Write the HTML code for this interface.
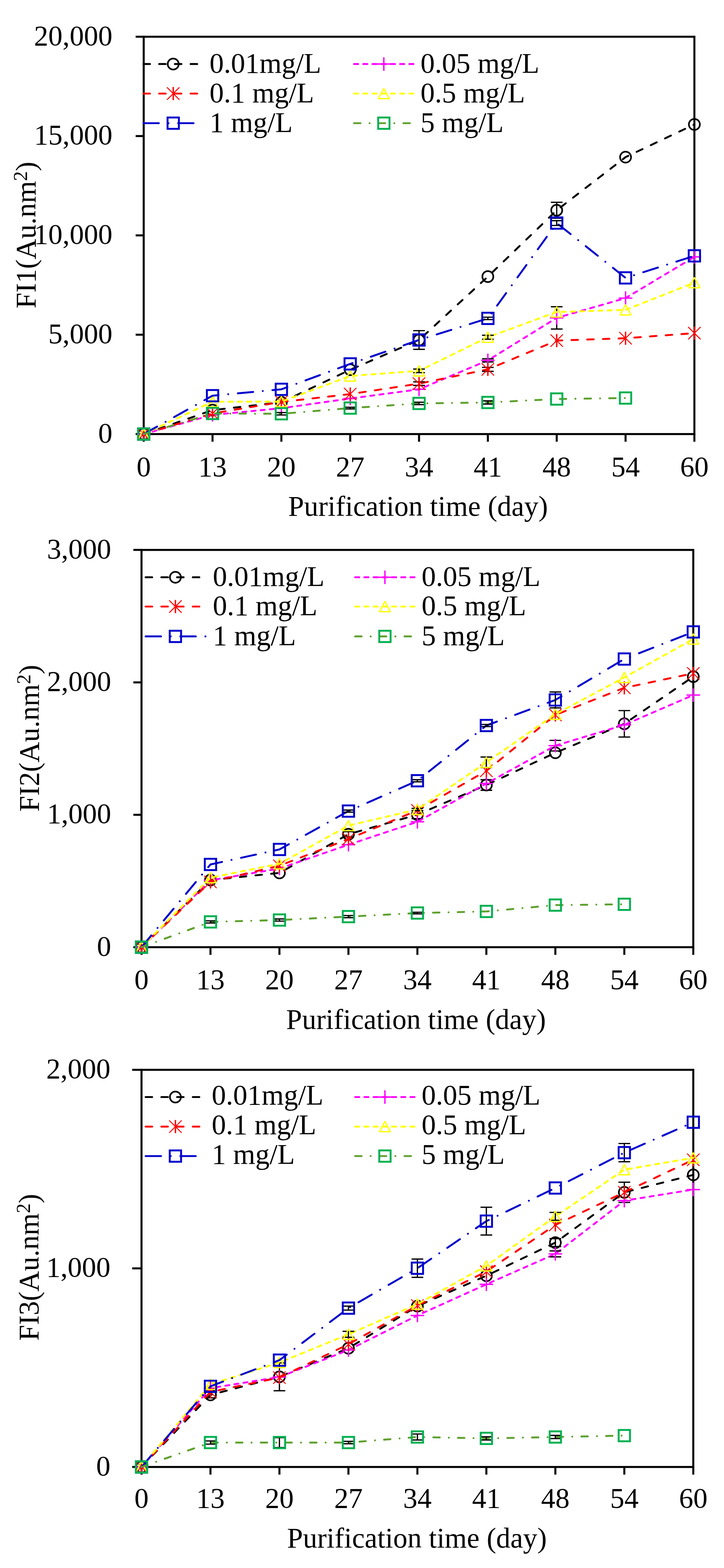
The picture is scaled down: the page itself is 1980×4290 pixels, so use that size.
<!DOCTYPE html><html><head><meta charset="utf-8"><style>html,body{margin:0;padding:0;background:#fff;}svg{display:block}</style></head><body>
<svg width="1980" height="4290" viewBox="0 0 1980 4290" font-family='"Liberation Serif", "Times New Roman", serif' font-size="78">
<rect width="1980" height="4290" fill="#fff"/><g>
<g><rect x="393" y="100.5" width="1506" height="1087.1" fill="none" stroke="#000" stroke-width="5.5"/><path d="M371 1187.6H393M371 915.8H393M371 644.0H393M371 372.3H393M371 100.5H393M393.0 1187.6V1208.6M581.2 1187.6V1208.6M769.5 1187.6V1208.6M957.8 1187.6V1208.6M1146.0 1187.6V1208.6M1334.2 1187.6V1208.6M1522.5 1187.6V1208.6M1710.8 1187.6V1208.6M1899.0 1187.6V1208.6" stroke="#000" stroke-width="5.5" fill="none"/><path d="M393.0 1187.6 L581.2 1122.1 L769.5 1100.6 L957.8 1011.6 L1146.0 930.2 L1334.2 756.8 L1522.5 575.3 L1710.8 429.9 L1899.0 340.5" fill="none" stroke="#000000" stroke-width="5.2" stroke-dasharray="17.8 25.2" stroke-linecap="round" stroke-linejoin="round"/><path d="M1146.0 904.6V955.7M1130.0 904.6H1162.0M1130.0 955.7H1162.0" stroke="#000" stroke-width="3.4" fill="none"/><path d="M1522.5 553.5V597.0M1506.5 553.5H1538.5M1506.5 597.0H1538.5" stroke="#000" stroke-width="3.4" fill="none"/><circle cx="393.0" cy="1187.6" r="15" fill="none" stroke="#000000" stroke-width="4.5"/><circle cx="581.2" cy="1122.1" r="15" fill="none" stroke="#000000" stroke-width="4.5"/><circle cx="769.5" cy="1100.6" r="15" fill="none" stroke="#000000" stroke-width="4.5"/><circle cx="957.8" cy="1011.6" r="15" fill="none" stroke="#000000" stroke-width="4.5"/><circle cx="1146.0" cy="930.2" r="15" fill="none" stroke="#000000" stroke-width="4.5"/><circle cx="1334.2" cy="756.8" r="15" fill="none" stroke="#000000" stroke-width="4.5"/><circle cx="1522.5" cy="575.3" r="15" fill="none" stroke="#000000" stroke-width="4.5"/><circle cx="1710.8" cy="429.9" r="15" fill="none" stroke="#000000" stroke-width="4.5"/><circle cx="1899.0" cy="340.5" r="15" fill="none" stroke="#000000" stroke-width="4.5"/><path d="M393.0 1187.6 L581.2 1135.1 L769.5 1116.9 L957.8 1090.3 L1146.0 1065.2 L1334.2 985.9 L1522.5 869.7 L1710.8 815.6 L1899.0 702.9" fill="none" stroke="#FF00FF" stroke-width="5.2" stroke-dasharray="11.2 14" stroke-linecap="round" stroke-linejoin="round"/><path d="M1522.5 839.3V900.2M1506.5 839.3H1538.5M1506.5 900.2H1538.5" stroke="#000" stroke-width="3.4" fill="none"/><path d="M1334.2 981.6V990.3M1318.2 981.6H1350.2M1318.2 990.3H1350.2" stroke="#000" stroke-width="3.4" fill="none"/><path d="M393.0 1169.1V1206.1M374.5 1187.6H411.5" stroke="#FF00FF" stroke-width="3.8" fill="none"/><path d="M581.2 1116.6V1153.6M562.8 1135.1H599.8" stroke="#FF00FF" stroke-width="3.8" fill="none"/><path d="M769.5 1098.4V1135.4M751.0 1116.9H788.0" stroke="#FF00FF" stroke-width="3.8" fill="none"/><path d="M957.8 1071.8V1108.8M939.2 1090.3H976.2" stroke="#FF00FF" stroke-width="3.8" fill="none"/><path d="M1146.0 1046.7V1083.7M1127.5 1065.2H1164.5" stroke="#FF00FF" stroke-width="3.8" fill="none"/><path d="M1334.2 967.4V1004.4M1315.8 985.9H1352.8" stroke="#FF00FF" stroke-width="3.8" fill="none"/><path d="M1522.5 851.2V888.2M1504.0 869.7H1541.0" stroke="#FF00FF" stroke-width="3.8" fill="none"/><path d="M1710.8 797.1V834.1M1692.2 815.6H1729.2" stroke="#FF00FF" stroke-width="3.8" fill="none"/><path d="M1899.0 684.4V721.4M1880.5 702.9H1917.5" stroke="#FF00FF" stroke-width="3.8" fill="none"/><path d="M393.0 1187.6 L581.2 1131.3 L769.5 1099.7 L957.8 1078.2 L1146.0 1049.6 L1334.2 1010.6 L1522.5 931.8 L1710.8 925.4 L1899.0 911.5" fill="none" stroke="#FF0000" stroke-width="5.2" stroke-dasharray="17.8 25.2" stroke-linecap="round" stroke-linejoin="round"/><path d="M1334.2 1005.1V1016.0M1318.2 1005.1H1350.2M1318.2 1016.0H1350.2" stroke="#000" stroke-width="3.4" fill="none"/><path d="M1146.0 1044.7V1054.5M1130.0 1044.7H1162.0M1130.0 1054.5H1162.0" stroke="#000" stroke-width="3.4" fill="none"/><path d="M393.0 1169.6V1205.6" stroke="#FF0000" stroke-width="3.8" fill="none"/><path d="M376.0 1170.6L410.0 1204.6M376.0 1204.6L410.0 1170.6" stroke="#FF0000" stroke-width="2.6" fill="none"/><path d="M581.2 1113.3V1149.3" stroke="#FF0000" stroke-width="3.8" fill="none"/><path d="M564.2 1114.3L598.2 1148.3M564.2 1148.3L598.2 1114.3" stroke="#FF0000" stroke-width="2.6" fill="none"/><path d="M769.5 1081.7V1117.7" stroke="#FF0000" stroke-width="3.8" fill="none"/><path d="M752.5 1082.7L786.5 1116.7M752.5 1116.7L786.5 1082.7" stroke="#FF0000" stroke-width="2.6" fill="none"/><path d="M957.8 1060.2V1096.2" stroke="#FF0000" stroke-width="3.8" fill="none"/><path d="M940.8 1061.2L974.8 1095.2M940.8 1095.2L974.8 1061.2" stroke="#FF0000" stroke-width="2.6" fill="none"/><path d="M1146.0 1031.6V1067.6" stroke="#FF0000" stroke-width="3.8" fill="none"/><path d="M1129.0 1032.6L1163.0 1066.6M1129.0 1066.6L1163.0 1032.6" stroke="#FF0000" stroke-width="2.6" fill="none"/><path d="M1334.2 992.6V1028.6" stroke="#FF0000" stroke-width="3.8" fill="none"/><path d="M1317.2 993.6L1351.2 1027.6M1317.2 1027.6L1351.2 993.6" stroke="#FF0000" stroke-width="2.6" fill="none"/><path d="M1522.5 913.8V949.8" stroke="#FF0000" stroke-width="3.8" fill="none"/><path d="M1505.5 914.8L1539.5 948.8M1505.5 948.8L1539.5 914.8" stroke="#FF0000" stroke-width="2.6" fill="none"/><path d="M1710.8 907.4V943.4" stroke="#FF0000" stroke-width="3.8" fill="none"/><path d="M1693.8 908.4L1727.8 942.4M1693.8 942.4L1727.8 908.4" stroke="#FF0000" stroke-width="2.6" fill="none"/><path d="M1899.0 893.5V929.5" stroke="#FF0000" stroke-width="3.8" fill="none"/><path d="M1882.0 894.5L1916.0 928.5M1882.0 928.5L1916.0 894.5" stroke="#FF0000" stroke-width="2.6" fill="none"/><path d="M393.0 1187.6 L581.2 1099.0 L769.5 1098.9 L957.8 1028.7 L1146.0 1014.7 L1334.2 922.6 L1522.5 853.6 L1710.8 847.8 L1899.0 773.4" fill="none" stroke="#FFFF00" stroke-width="5.2" stroke-dasharray="11.2 14" stroke-linecap="round" stroke-linejoin="round"/><path d="M1334.2 917.2V928.1M1318.2 917.2H1350.2M1318.2 928.1H1350.2" stroke="#000" stroke-width="3.4" fill="none"/><path d="M1146.0 1009.8V1019.6M1130.0 1009.8H1162.0M1130.0 1019.6H1162.0" stroke="#000" stroke-width="3.4" fill="none"/><path d="M393.0 1173.6L408.0 1201.6H378.0Z" stroke="#FFFF00" stroke-width="3.4" fill="none" stroke-linejoin="round"/><path d="M581.2 1085.0L596.2 1113.0H566.2Z" stroke="#FFFF00" stroke-width="3.4" fill="none" stroke-linejoin="round"/><path d="M769.5 1084.9L784.5 1112.9H754.5Z" stroke="#FFFF00" stroke-width="3.4" fill="none" stroke-linejoin="round"/><path d="M957.8 1014.7L972.8 1042.7H942.8Z" stroke="#FFFF00" stroke-width="3.4" fill="none" stroke-linejoin="round"/><path d="M1146.0 1000.7L1161.0 1028.7H1131.0Z" stroke="#FFFF00" stroke-width="3.4" fill="none" stroke-linejoin="round"/><path d="M1334.2 908.6L1349.2 936.6H1319.2Z" stroke="#FFFF00" stroke-width="3.4" fill="none" stroke-linejoin="round"/><path d="M1522.5 839.6L1537.5 867.6H1507.5Z" stroke="#FFFF00" stroke-width="3.4" fill="none" stroke-linejoin="round"/><path d="M1710.8 833.8L1725.8 861.8H1695.8Z" stroke="#FFFF00" stroke-width="3.4" fill="none" stroke-linejoin="round"/><path d="M1899.0 759.4L1914.0 787.4H1884.0Z" stroke="#FFFF00" stroke-width="3.4" fill="none" stroke-linejoin="round"/><path d="M393.0 1187.6 L581.2 1082.6 L769.5 1065.2 L957.8 995.6 L1146.0 930.2 L1334.2 871.1 L1522.5 610.3 L1710.8 760.3 L1899.0 700.0" fill="none" stroke="#0000CC" stroke-width="5.2" stroke-dasharray="42 26.5 0.01 26.5" stroke-linecap="round" stroke-linejoin="round"/><path d="M1334.2 867.9V874.4M1318.2 867.9H1350.2M1318.2 874.4H1350.2" stroke="#000" stroke-width="3.4" fill="none"/><path d="M1522.5 603.8V616.9M1506.5 603.8H1538.5M1506.5 616.9H1538.5" stroke="#000" stroke-width="3.4" fill="none"/><rect x="377.5" y="1172.1" width="31.0" height="31.0" fill="none" stroke="#0000CC" stroke-width="5.2"/><rect x="565.8" y="1067.1" width="31.0" height="31.0" fill="none" stroke="#0000CC" stroke-width="5.2"/><rect x="754.0" y="1049.7" width="31.0" height="31.0" fill="none" stroke="#0000CC" stroke-width="5.2"/><rect x="942.2" y="980.1" width="31.0" height="31.0" fill="none" stroke="#0000CC" stroke-width="5.2"/><rect x="1130.5" y="914.7" width="31.0" height="31.0" fill="none" stroke="#0000CC" stroke-width="5.2"/><rect x="1318.8" y="855.6" width="31.0" height="31.0" fill="none" stroke="#0000CC" stroke-width="5.2"/><rect x="1507.0" y="594.8" width="31.0" height="31.0" fill="none" stroke="#0000CC" stroke-width="5.2"/><rect x="1695.2" y="744.8" width="31.0" height="31.0" fill="none" stroke="#0000CC" stroke-width="5.2"/><rect x="1883.5" y="684.5" width="31.0" height="31.0" fill="none" stroke="#0000CC" stroke-width="5.2"/><path d="M393.0 1187.6 L581.2 1131.3 L769.5 1132.1 L957.8 1116.5 L1146.0 1103.8 L1334.2 1101.2 L1522.5 1091.7 L1710.8 1089.0" fill="none" stroke="#5FA02E" stroke-width="5.2" stroke-dasharray="17.5 25 0.01 25" stroke-linecap="round" stroke-linejoin="round"/><path d="M1334.2 1096.8V1105.5M1318.2 1096.8H1350.2M1318.2 1105.5H1350.2" stroke="#000" stroke-width="3.4" fill="none"/><path d="M1146.0 1100.5V1107.0M1130.0 1100.5H1162.0M1130.0 1107.0H1162.0" stroke="#000" stroke-width="3.4" fill="none"/><path d="M769.5 1128.8V1135.4M753.5 1128.8H785.5M753.5 1135.4H785.5" stroke="#000" stroke-width="3.4" fill="none"/><path d="M957.8 1114.3V1118.7M941.8 1114.3H973.8M941.8 1118.7H973.8" stroke="#000" stroke-width="3.4" fill="none"/><rect x="377.5" y="1172.1" width="31.0" height="31.0" fill="none" stroke="#00B050" stroke-width="5.2"/><rect x="565.8" y="1115.8" width="31.0" height="31.0" fill="none" stroke="#00B050" stroke-width="5.2"/><rect x="754.0" y="1116.6" width="31.0" height="31.0" fill="none" stroke="#00B050" stroke-width="5.2"/><rect x="942.2" y="1101.0" width="31.0" height="31.0" fill="none" stroke="#00B050" stroke-width="5.2"/><rect x="1130.5" y="1088.3" width="31.0" height="31.0" fill="none" stroke="#00B050" stroke-width="5.2"/><rect x="1318.8" y="1085.7" width="31.0" height="31.0" fill="none" stroke="#00B050" stroke-width="5.2"/><rect x="1507.0" y="1076.2" width="31.0" height="31.0" fill="none" stroke="#00B050" stroke-width="5.2"/><rect x="1695.2" y="1073.5" width="31.0" height="31.0" fill="none" stroke="#00B050" stroke-width="5.2"/><text x="307.5" y="1210.6" text-anchor="end">0</text><text x="307.5" y="938.8" text-anchor="end">5,000</text><text x="307.5" y="667.0" text-anchor="end">10,000</text><text x="307.5" y="395.3" text-anchor="end">15,000</text><text x="307.5" y="123.5" text-anchor="end">20,000</text><text x="393.0" y="1302.5" text-anchor="middle">0</text><text x="581.2" y="1302.5" text-anchor="middle">13</text><text x="769.5" y="1302.5" text-anchor="middle">20</text><text x="957.8" y="1302.5" text-anchor="middle">27</text><text x="1146.0" y="1302.5" text-anchor="middle">34</text><text x="1334.2" y="1302.5" text-anchor="middle">41</text><text x="1522.5" y="1302.5" text-anchor="middle">48</text><text x="1710.8" y="1302.5" text-anchor="middle">54</text><text x="1899.0" y="1302.5" text-anchor="middle">60</text><text x="788" y="1411">Purification time (day)</text><text transform="translate(97.3,844) rotate(-90)">FI1(Au.nm<tspan font-size="54" dy="-23">2</tspan><tspan dy="23">)</tspan></text><path d="M392.3 175.2H557.7" stroke="#000000" stroke-width="5.2" stroke-dasharray="17.8 25.2" stroke-linecap="round" fill="none"/><circle cx="473.7" cy="175.2" r="15" fill="none" stroke="#000000" stroke-width="4.5"/><text x="573" y="199.2">0.01mg/L</text><path d="M968.3 175.2H1133.7" stroke="#FF00FF" stroke-width="5.2" stroke-dasharray="11.2 14" stroke-linecap="round" fill="none"/><path d="M1049.7 156.7V193.7M1031.2 175.2H1068.2" stroke="#FF00FF" stroke-width="3.8" fill="none"/><text x="1150" y="199.2">0.05 mg/L</text><path d="M392.3 256H557.7" stroke="#FF0000" stroke-width="5.2" stroke-dasharray="17.8 25.2" stroke-linecap="round" fill="none"/><path d="M473.7 238.0V274.0" stroke="#FF0000" stroke-width="3.8" fill="none"/><path d="M456.7 239.0L490.7 273.0M456.7 273.0L490.7 239.0" stroke="#FF0000" stroke-width="2.6" fill="none"/><text x="573" y="280.0">0.1 mg/L</text><path d="M968.3 256H1133.7" stroke="#FFFF00" stroke-width="5.2" stroke-dasharray="11.2 14" stroke-linecap="round" fill="none"/><path d="M1049.7 242.0L1064.7 270.0H1034.7Z" stroke="#FFFF00" stroke-width="3.4" fill="none" stroke-linejoin="round"/><text x="1150" y="280.0">0.5 mg/L</text><path d="M392.3 337H543.7" stroke="#0000CC" stroke-width="5.2" stroke-dasharray="42 26.5 0.01 26.5" stroke-linecap="round" fill="none"/><rect x="458.2" y="321.5" width="31.0" height="31.0" fill="none" stroke="#0000CC" stroke-width="5.2"/><text x="573" y="361.0">1 mg/L</text><path d="M968.3 337H1133.7" stroke="#5FA02E" stroke-width="5.2" stroke-dasharray="17.5 25 0.01 25" stroke-linecap="round" fill="none"/><rect x="1034.2" y="321.5" width="31.0" height="31.0" fill="none" stroke="#00B050" stroke-width="5.2"/><text x="1150" y="361.0">5 mg/L</text></g>
<g><rect x="387" y="1504.6" width="1509" height="1086.9" fill="none" stroke="#000" stroke-width="5.5"/><path d="M364.7 2591.5H387M364.7 2229.2H387M364.7 1866.9H387M364.7 1504.6H387M387.0 2591.5V2612.5M575.6 2591.5V2612.5M764.2 2591.5V2612.5M952.9 2591.5V2612.5M1141.5 2591.5V2612.5M1330.1 2591.5V2612.5M1518.8 2591.5V2612.5M1707.4 2591.5V2612.5M1896.0 2591.5V2612.5" stroke="#000" stroke-width="5.5" fill="none"/><path d="M387.0 2591.5 L575.6 2407.8 L764.2 2388.2 L952.9 2282.5 L1141.5 2228.8 L1330.1 2147.7 L1518.8 2059.6 L1707.4 1980.3 L1896.0 1851.3" fill="none" stroke="#000000" stroke-width="5.2" stroke-dasharray="17.8 25.2" stroke-linecap="round" stroke-linejoin="round"/><path d="M1707.4 1944.1V2016.5M1691.4 1944.1H1723.4M1691.4 2016.5H1723.4" stroke="#000" stroke-width="3.4" fill="none"/><path d="M1330.1 2133.2V2162.2M1314.1 2133.2H1346.1M1314.1 2162.2H1346.1" stroke="#000" stroke-width="3.4" fill="none"/><path d="M1141.5 2218.0V2239.7M1125.5 2218.0H1157.5M1125.5 2239.7H1157.5" stroke="#000" stroke-width="3.4" fill="none"/><path d="M952.9 2275.2V2289.7M936.9 2275.2H968.9M936.9 2289.7H968.9" stroke="#000" stroke-width="3.4" fill="none"/><circle cx="387.0" cy="2591.5" r="15" fill="none" stroke="#000000" stroke-width="4.5"/><circle cx="575.6" cy="2407.8" r="15" fill="none" stroke="#000000" stroke-width="4.5"/><circle cx="764.2" cy="2388.2" r="15" fill="none" stroke="#000000" stroke-width="4.5"/><circle cx="952.9" cy="2282.5" r="15" fill="none" stroke="#000000" stroke-width="4.5"/><circle cx="1141.5" cy="2228.8" r="15" fill="none" stroke="#000000" stroke-width="4.5"/><circle cx="1330.1" cy="2147.7" r="15" fill="none" stroke="#000000" stroke-width="4.5"/><circle cx="1518.8" cy="2059.6" r="15" fill="none" stroke="#000000" stroke-width="4.5"/><circle cx="1707.4" cy="1980.3" r="15" fill="none" stroke="#000000" stroke-width="4.5"/><circle cx="1896.0" cy="1851.3" r="15" fill="none" stroke="#000000" stroke-width="4.5"/><path d="M387.0 2591.5 L575.6 2408.5 L764.2 2376.3 L952.9 2311.1 L1141.5 2248.4 L1330.1 2143.7 L1518.8 2040.1 L1707.4 1983.2 L1896.0 1901.7" fill="none" stroke="#FF00FF" stroke-width="5.2" stroke-dasharray="11.2 14" stroke-linecap="round" stroke-linejoin="round"/><path d="M1518.8 2025.6V2054.6M1502.8 2025.6H1534.8M1502.8 2054.6H1534.8" stroke="#000" stroke-width="3.4" fill="none"/><path d="M387.0 2573.0V2610.0M368.5 2591.5H405.5" stroke="#FF00FF" stroke-width="3.8" fill="none"/><path d="M575.6 2390.0V2427.0M557.1 2408.5H594.1" stroke="#FF00FF" stroke-width="3.8" fill="none"/><path d="M764.2 2357.8V2394.8M745.8 2376.3H782.8" stroke="#FF00FF" stroke-width="3.8" fill="none"/><path d="M952.9 2292.6V2329.6M934.4 2311.1H971.4" stroke="#FF00FF" stroke-width="3.8" fill="none"/><path d="M1141.5 2229.9V2266.9M1123.0 2248.4H1160.0" stroke="#FF00FF" stroke-width="3.8" fill="none"/><path d="M1330.1 2125.2V2162.2M1311.6 2143.7H1348.6" stroke="#FF00FF" stroke-width="3.8" fill="none"/><path d="M1518.8 2021.6V2058.6M1500.2 2040.1H1537.2" stroke="#FF00FF" stroke-width="3.8" fill="none"/><path d="M1707.4 1964.7V2001.7M1688.9 1983.2H1725.9" stroke="#FF00FF" stroke-width="3.8" fill="none"/><path d="M1896.0 1883.2V1920.2M1877.5 1901.7H1914.5" stroke="#FF00FF" stroke-width="3.8" fill="none"/><path d="M387.0 2591.5 L575.6 2412.9 L764.2 2368.7 L952.9 2295.5 L1141.5 2217.2 L1330.1 2108.9 L1518.8 1956.0 L1707.4 1881.8 L1896.0 1842.3" fill="none" stroke="#FF0000" stroke-width="5.2" stroke-dasharray="17.8 25.2" stroke-linecap="round" stroke-linejoin="round"/><path d="M387.0 2573.5V2609.5" stroke="#FF0000" stroke-width="3.8" fill="none"/><path d="M370.0 2574.5L404.0 2608.5M370.0 2608.5L404.0 2574.5" stroke="#FF0000" stroke-width="2.6" fill="none"/><path d="M575.6 2394.9V2430.9" stroke="#FF0000" stroke-width="3.8" fill="none"/><path d="M558.6 2395.9L592.6 2429.9M558.6 2429.9L592.6 2395.9" stroke="#FF0000" stroke-width="2.6" fill="none"/><path d="M764.2 2350.7V2386.7" stroke="#FF0000" stroke-width="3.8" fill="none"/><path d="M747.2 2351.7L781.2 2385.7M747.2 2385.7L781.2 2351.7" stroke="#FF0000" stroke-width="2.6" fill="none"/><path d="M952.9 2277.5V2313.5" stroke="#FF0000" stroke-width="3.8" fill="none"/><path d="M935.9 2278.5L969.9 2312.5M935.9 2312.5L969.9 2278.5" stroke="#FF0000" stroke-width="2.6" fill="none"/><path d="M1141.5 2199.2V2235.2" stroke="#FF0000" stroke-width="3.8" fill="none"/><path d="M1124.5 2200.2L1158.5 2234.2M1124.5 2234.2L1158.5 2200.2" stroke="#FF0000" stroke-width="2.6" fill="none"/><path d="M1330.1 2090.9V2126.9" stroke="#FF0000" stroke-width="3.8" fill="none"/><path d="M1313.1 2091.9L1347.1 2125.9M1313.1 2125.9L1347.1 2091.9" stroke="#FF0000" stroke-width="2.6" fill="none"/><path d="M1518.8 1938.0V1974.0" stroke="#FF0000" stroke-width="3.8" fill="none"/><path d="M1501.8 1939.0L1535.8 1973.0M1501.8 1973.0L1535.8 1939.0" stroke="#FF0000" stroke-width="2.6" fill="none"/><path d="M1707.4 1863.8V1899.8" stroke="#FF0000" stroke-width="3.8" fill="none"/><path d="M1690.4 1864.8L1724.4 1898.8M1690.4 1898.8L1724.4 1864.8" stroke="#FF0000" stroke-width="2.6" fill="none"/><path d="M1896.0 1824.3V1860.3" stroke="#FF0000" stroke-width="3.8" fill="none"/><path d="M1879.0 1825.3L1913.0 1859.3M1879.0 1859.3L1913.0 1825.3" stroke="#FF0000" stroke-width="2.6" fill="none"/><path d="M387.0 2591.5 L575.6 2401.3 L764.2 2363.3 L952.9 2258.9 L1141.5 2214.7 L1330.1 2085.7 L1518.8 1954.2 L1707.4 1853.5 L1896.0 1748.4" fill="none" stroke="#FFFF00" stroke-width="5.2" stroke-dasharray="11.2 14" stroke-linecap="round" stroke-linejoin="round"/><path d="M1330.1 2071.2V2100.2M1314.1 2071.2H1346.1M1314.1 2100.2H1346.1" stroke="#000" stroke-width="3.4" fill="none"/><path d="M1141.5 2211.8V2217.6M1125.5 2211.8H1157.5M1125.5 2217.6H1157.5" stroke="#000" stroke-width="3.4" fill="none"/><path d="M387.0 2577.5L402.0 2605.5H372.0Z" stroke="#FFFF00" stroke-width="3.4" fill="none" stroke-linejoin="round"/><path d="M575.6 2387.3L590.6 2415.3H560.6Z" stroke="#FFFF00" stroke-width="3.4" fill="none" stroke-linejoin="round"/><path d="M764.2 2349.3L779.2 2377.3H749.2Z" stroke="#FFFF00" stroke-width="3.4" fill="none" stroke-linejoin="round"/><path d="M952.9 2244.9L967.9 2272.9H937.9Z" stroke="#FFFF00" stroke-width="3.4" fill="none" stroke-linejoin="round"/><path d="M1141.5 2200.7L1156.5 2228.7H1126.5Z" stroke="#FFFF00" stroke-width="3.4" fill="none" stroke-linejoin="round"/><path d="M1330.1 2071.7L1345.1 2099.7H1315.1Z" stroke="#FFFF00" stroke-width="3.4" fill="none" stroke-linejoin="round"/><path d="M1518.8 1940.2L1533.8 1968.2H1503.8Z" stroke="#FFFF00" stroke-width="3.4" fill="none" stroke-linejoin="round"/><path d="M1707.4 1839.5L1722.4 1867.5H1692.4Z" stroke="#FFFF00" stroke-width="3.4" fill="none" stroke-linejoin="round"/><path d="M1896.0 1734.4L1911.0 1762.4H1881.0Z" stroke="#FFFF00" stroke-width="3.4" fill="none" stroke-linejoin="round"/><path d="M387.0 2591.5 L575.6 2365.1 L764.2 2324.1 L952.9 2219.1 L1141.5 2136.1 L1330.1 1985.0 L1518.8 1915.1 L1707.4 1803.1 L1896.0 1728.9" fill="none" stroke="#0000CC" stroke-width="5.2" stroke-dasharray="42 26.5 0.01 26.5" stroke-linecap="round" stroke-linejoin="round"/><path d="M1518.8 1893.3V1936.8M1502.8 1893.3H1534.8M1502.8 1936.8H1534.8" stroke="#000" stroke-width="3.4" fill="none"/><path d="M952.9 2216.2V2222.0M936.9 2216.2H968.9M936.9 2222.0H968.9" stroke="#000" stroke-width="3.4" fill="none"/><path d="M1141.5 2133.2V2139.0M1125.5 2133.2H1157.5M1125.5 2139.0H1157.5" stroke="#000" stroke-width="3.4" fill="none"/><path d="M1330.1 1982.1V1987.9M1314.1 1982.1H1346.1M1314.1 1987.9H1346.1" stroke="#000" stroke-width="3.4" fill="none"/><rect x="371.5" y="2576.0" width="31.0" height="31.0" fill="none" stroke="#0000CC" stroke-width="5.2"/><rect x="560.1" y="2349.6" width="31.0" height="31.0" fill="none" stroke="#0000CC" stroke-width="5.2"/><rect x="748.8" y="2308.6" width="31.0" height="31.0" fill="none" stroke="#0000CC" stroke-width="5.2"/><rect x="937.4" y="2203.6" width="31.0" height="31.0" fill="none" stroke="#0000CC" stroke-width="5.2"/><rect x="1126.0" y="2120.6" width="31.0" height="31.0" fill="none" stroke="#0000CC" stroke-width="5.2"/><rect x="1314.6" y="1969.5" width="31.0" height="31.0" fill="none" stroke="#0000CC" stroke-width="5.2"/><rect x="1503.2" y="1899.6" width="31.0" height="31.0" fill="none" stroke="#0000CC" stroke-width="5.2"/><rect x="1691.9" y="1787.6" width="31.0" height="31.0" fill="none" stroke="#0000CC" stroke-width="5.2"/><rect x="1880.5" y="1713.4" width="31.0" height="31.0" fill="none" stroke="#0000CC" stroke-width="5.2"/><path d="M387.0 2591.5 L575.6 2522.3 L764.2 2517.2 L952.9 2507.8 L1141.5 2498.0 L1330.1 2493.7 L1518.8 2476.3 L1707.4 2474.1" fill="none" stroke="#5FA02E" stroke-width="5.2" stroke-dasharray="17.5 25 0.01 25" stroke-linecap="round" stroke-linejoin="round"/><path d="M575.6 2519.4V2525.2M559.6 2519.4H591.6M559.6 2525.2H591.6" stroke="#000" stroke-width="3.4" fill="none"/><path d="M764.2 2514.3V2520.1M748.2 2514.3H780.2M748.2 2520.1H780.2" stroke="#000" stroke-width="3.4" fill="none"/><path d="M952.9 2504.9V2510.7M936.9 2504.9H968.9M936.9 2510.7H968.9" stroke="#000" stroke-width="3.4" fill="none"/><path d="M1141.5 2495.9V2500.2M1125.5 2495.9H1157.5M1125.5 2500.2H1157.5" stroke="#000" stroke-width="3.4" fill="none"/><rect x="371.5" y="2576.0" width="31.0" height="31.0" fill="none" stroke="#00B050" stroke-width="5.2"/><rect x="560.1" y="2506.8" width="31.0" height="31.0" fill="none" stroke="#00B050" stroke-width="5.2"/><rect x="748.8" y="2501.7" width="31.0" height="31.0" fill="none" stroke="#00B050" stroke-width="5.2"/><rect x="937.4" y="2492.3" width="31.0" height="31.0" fill="none" stroke="#00B050" stroke-width="5.2"/><rect x="1126.0" y="2482.5" width="31.0" height="31.0" fill="none" stroke="#00B050" stroke-width="5.2"/><rect x="1314.6" y="2478.2" width="31.0" height="31.0" fill="none" stroke="#00B050" stroke-width="5.2"/><rect x="1503.2" y="2460.8" width="31.0" height="31.0" fill="none" stroke="#00B050" stroke-width="5.2"/><rect x="1691.9" y="2458.6" width="31.0" height="31.0" fill="none" stroke="#00B050" stroke-width="5.2"/><text x="304" y="2614.5" text-anchor="end">0</text><text x="304" y="2252.2" text-anchor="end">1,000</text><text x="304" y="1889.9" text-anchor="end">2,000</text><text x="304" y="1527.6" text-anchor="end">3,000</text><text x="387.0" y="2706" text-anchor="middle">0</text><text x="575.6" y="2706" text-anchor="middle">13</text><text x="764.2" y="2706" text-anchor="middle">20</text><text x="952.9" y="2706" text-anchor="middle">27</text><text x="1141.5" y="2706" text-anchor="middle">34</text><text x="1330.1" y="2706" text-anchor="middle">41</text><text x="1518.8" y="2706" text-anchor="middle">48</text><text x="1707.4" y="2706" text-anchor="middle">54</text><text x="1896.0" y="2706" text-anchor="middle">60</text><text x="782.5" y="2815">Purification time (day)</text><text transform="translate(106.4,2220.7) rotate(-90)">FI2(Au.nm<tspan font-size="54" dy="-23">2</tspan><tspan dy="23">)</tspan></text><path d="M398.3 1579.4H563.7" stroke="#000000" stroke-width="5.2" stroke-dasharray="17.8 25.2" stroke-linecap="round" fill="none"/><circle cx="479.7" cy="1579.4" r="15" fill="none" stroke="#000000" stroke-width="4.5"/><text x="582" y="1602.9">0.01mg/L</text><path d="M971.3 1579.4H1136.7" stroke="#FF00FF" stroke-width="5.2" stroke-dasharray="11.2 14" stroke-linecap="round" fill="none"/><path d="M1052.7 1560.9V1597.9M1034.2 1579.4H1071.2" stroke="#FF00FF" stroke-width="3.8" fill="none"/><text x="1153" y="1602.9">0.05 mg/L</text><path d="M398.3 1659.5H563.7" stroke="#FF0000" stroke-width="5.2" stroke-dasharray="17.8 25.2" stroke-linecap="round" fill="none"/><path d="M479.7 1641.5V1677.5" stroke="#FF0000" stroke-width="3.8" fill="none"/><path d="M462.7 1642.5L496.7 1676.5M462.7 1676.5L496.7 1642.5" stroke="#FF0000" stroke-width="2.6" fill="none"/><text x="582" y="1683.0">0.1 mg/L</text><path d="M971.3 1659.5H1136.7" stroke="#FFFF00" stroke-width="5.2" stroke-dasharray="11.2 14" stroke-linecap="round" fill="none"/><path d="M1052.7 1645.5L1067.7 1673.5H1037.7Z" stroke="#FFFF00" stroke-width="3.4" fill="none" stroke-linejoin="round"/><text x="1153" y="1683.0">0.5 mg/L</text><path d="M398.3 1741.2H563.7" stroke="#0000CC" stroke-width="5.2" stroke-dasharray="42 26.5 0.01 26.5" stroke-linecap="round" fill="none"/><rect x="464.2" y="1725.7" width="31.0" height="31.0" fill="none" stroke="#0000CC" stroke-width="5.2"/><text x="582" y="1764.7">1 mg/L</text><path d="M971.3 1741.2H1136.7" stroke="#5FA02E" stroke-width="5.2" stroke-dasharray="17.5 25 0.01 25" stroke-linecap="round" fill="none"/><rect x="1037.2" y="1725.7" width="31.0" height="31.0" fill="none" stroke="#00B050" stroke-width="5.2"/><text x="1153" y="1764.7">5 mg/L</text></g>
<g><rect x="387" y="2927" width="1509" height="1086.6" fill="none" stroke="#000" stroke-width="5.5"/><path d="M361.5 4013.6H387M361.5 3470.3H387M361.5 2927.0H387M387.0 4013.6V4034.6M575.6 4013.6V4034.6M764.2 4013.6V4034.6M952.9 4013.6V4034.6M1141.5 4013.6V4034.6M1330.1 4013.6V4034.6M1518.8 4013.6V4034.6M1707.4 4013.6V4034.6M1896.0 4013.6V4034.6" stroke="#000" stroke-width="5.5" fill="none"/><path d="M387.0 4013.6 L575.6 3816.4 L764.2 3766.9 L952.9 3688.7 L1141.5 3573.5 L1330.1 3490.4 L1518.8 3399.7 L1707.4 3262.2 L1896.0 3214.4" fill="none" stroke="#000000" stroke-width="5.2" stroke-dasharray="17.8 25.2" stroke-linecap="round" stroke-linejoin="round"/><path d="M764.2 3728.9V3805.0M748.2 3728.9H780.2M748.2 3805.0H780.2" stroke="#000" stroke-width="3.4" fill="none"/><path d="M1707.4 3234.5V3289.9M1691.4 3234.5H1723.4M1691.4 3289.9H1723.4" stroke="#000" stroke-width="3.4" fill="none"/><path d="M1518.8 3388.8V3410.5M1502.8 3388.8H1534.8M1502.8 3410.5H1534.8" stroke="#000" stroke-width="3.4" fill="none"/><path d="M575.6 3808.2V3824.5M559.6 3808.2H591.6M559.6 3824.5H591.6" stroke="#000" stroke-width="3.4" fill="none"/><circle cx="387.0" cy="4013.6" r="15" fill="none" stroke="#000000" stroke-width="4.5"/><circle cx="575.6" cy="3816.4" r="15" fill="none" stroke="#000000" stroke-width="4.5"/><circle cx="764.2" cy="3766.9" r="15" fill="none" stroke="#000000" stroke-width="4.5"/><circle cx="952.9" cy="3688.7" r="15" fill="none" stroke="#000000" stroke-width="4.5"/><circle cx="1141.5" cy="3573.5" r="15" fill="none" stroke="#000000" stroke-width="4.5"/><circle cx="1330.1" cy="3490.4" r="15" fill="none" stroke="#000000" stroke-width="4.5"/><circle cx="1518.8" cy="3399.7" r="15" fill="none" stroke="#000000" stroke-width="4.5"/><circle cx="1707.4" cy="3262.2" r="15" fill="none" stroke="#000000" stroke-width="4.5"/><circle cx="1896.0" cy="3214.4" r="15" fill="none" stroke="#000000" stroke-width="4.5"/><path d="M387.0 4013.6 L575.6 3797.9 L764.2 3767.5 L952.9 3693.6 L1141.5 3599.1 L1330.1 3513.8 L1518.8 3430.6 L1707.4 3285.0 L1896.0 3254.6" fill="none" stroke="#FF00FF" stroke-width="5.2" stroke-dasharray="11.2 14" stroke-linecap="round" stroke-linejoin="round"/><path d="M1518.8 3422.5V3438.8M1502.8 3422.5H1534.8M1502.8 3438.8H1534.8" stroke="#000" stroke-width="3.4" fill="none"/><path d="M387.0 3995.1V4032.1M368.5 4013.6H405.5" stroke="#FF00FF" stroke-width="3.8" fill="none"/><path d="M575.6 3779.4V3816.4M557.1 3797.9H594.1" stroke="#FF00FF" stroke-width="3.8" fill="none"/><path d="M764.2 3749.0V3786.0M745.8 3767.5H782.8" stroke="#FF00FF" stroke-width="3.8" fill="none"/><path d="M952.9 3675.1V3712.1M934.4 3693.6H971.4" stroke="#FF00FF" stroke-width="3.8" fill="none"/><path d="M1141.5 3580.6V3617.6M1123.0 3599.1H1160.0" stroke="#FF00FF" stroke-width="3.8" fill="none"/><path d="M1330.1 3495.3V3532.3M1311.6 3513.8H1348.6" stroke="#FF00FF" stroke-width="3.8" fill="none"/><path d="M1518.8 3412.1V3449.1M1500.2 3430.6H1537.2" stroke="#FF00FF" stroke-width="3.8" fill="none"/><path d="M1707.4 3266.5V3303.5M1688.9 3285.0H1725.9" stroke="#FF00FF" stroke-width="3.8" fill="none"/><path d="M1896.0 3236.1V3273.1M1877.5 3254.6H1914.5" stroke="#FF00FF" stroke-width="3.8" fill="none"/><path d="M387.0 4013.6 L575.6 3808.2 L764.2 3769.1 L952.9 3677.8 L1141.5 3571.9 L1330.1 3479.0 L1518.8 3351.3 L1707.4 3262.2 L1896.0 3173.1" fill="none" stroke="#FF0000" stroke-width="5.2" stroke-dasharray="17.8 25.2" stroke-linecap="round" stroke-linejoin="round"/><path d="M387.0 3995.6V4031.6" stroke="#FF0000" stroke-width="3.8" fill="none"/><path d="M370.0 3996.6L404.0 4030.6M370.0 4030.6L404.0 3996.6" stroke="#FF0000" stroke-width="2.6" fill="none"/><path d="M575.6 3790.2V3826.2" stroke="#FF0000" stroke-width="3.8" fill="none"/><path d="M558.6 3791.2L592.6 3825.2M558.6 3825.2L592.6 3791.2" stroke="#FF0000" stroke-width="2.6" fill="none"/><path d="M764.2 3751.1V3787.1" stroke="#FF0000" stroke-width="3.8" fill="none"/><path d="M747.2 3752.1L781.2 3786.1M747.2 3786.1L781.2 3752.1" stroke="#FF0000" stroke-width="2.6" fill="none"/><path d="M952.9 3659.8V3695.8" stroke="#FF0000" stroke-width="3.8" fill="none"/><path d="M935.9 3660.8L969.9 3694.8M935.9 3694.8L969.9 3660.8" stroke="#FF0000" stroke-width="2.6" fill="none"/><path d="M1141.5 3553.9V3589.9" stroke="#FF0000" stroke-width="3.8" fill="none"/><path d="M1124.5 3554.9L1158.5 3588.9M1124.5 3588.9L1158.5 3554.9" stroke="#FF0000" stroke-width="2.6" fill="none"/><path d="M1330.1 3461.0V3497.0" stroke="#FF0000" stroke-width="3.8" fill="none"/><path d="M1313.1 3462.0L1347.1 3496.0M1313.1 3496.0L1347.1 3462.0" stroke="#FF0000" stroke-width="2.6" fill="none"/><path d="M1518.8 3333.3V3369.3" stroke="#FF0000" stroke-width="3.8" fill="none"/><path d="M1501.8 3334.3L1535.8 3368.3M1501.8 3368.3L1535.8 3334.3" stroke="#FF0000" stroke-width="2.6" fill="none"/><path d="M1707.4 3244.2V3280.2" stroke="#FF0000" stroke-width="3.8" fill="none"/><path d="M1690.4 3245.2L1724.4 3279.2M1690.4 3279.2L1724.4 3245.2" stroke="#FF0000" stroke-width="2.6" fill="none"/><path d="M1896.0 3155.1V3191.1" stroke="#FF0000" stroke-width="3.8" fill="none"/><path d="M1879.0 3156.1L1913.0 3190.1M1879.0 3190.1L1913.0 3156.1" stroke="#FF0000" stroke-width="2.6" fill="none"/><path d="M387.0 4013.6 L575.6 3787.6 L764.2 3727.8 L952.9 3650.7 L1141.5 3568.1 L1330.1 3463.2 L1518.8 3328.0 L1707.4 3200.3 L1896.0 3167.7" fill="none" stroke="#FFFF00" stroke-width="5.2" stroke-dasharray="11.2 14" stroke-linecap="round" stroke-linejoin="round"/><path d="M1518.8 3317.1V3338.8M1502.8 3317.1H1534.8M1502.8 3338.8H1534.8" stroke="#000" stroke-width="3.4" fill="none"/><path d="M952.9 3642.5V3658.8M936.9 3642.5H968.9M936.9 3658.8H968.9" stroke="#000" stroke-width="3.4" fill="none"/><path d="M387.0 3999.6L402.0 4027.6H372.0Z" stroke="#FFFF00" stroke-width="3.4" fill="none" stroke-linejoin="round"/><path d="M575.6 3773.6L590.6 3801.6H560.6Z" stroke="#FFFF00" stroke-width="3.4" fill="none" stroke-linejoin="round"/><path d="M764.2 3713.8L779.2 3741.8H749.2Z" stroke="#FFFF00" stroke-width="3.4" fill="none" stroke-linejoin="round"/><path d="M952.9 3636.7L967.9 3664.7H937.9Z" stroke="#FFFF00" stroke-width="3.4" fill="none" stroke-linejoin="round"/><path d="M1141.5 3554.1L1156.5 3582.1H1126.5Z" stroke="#FFFF00" stroke-width="3.4" fill="none" stroke-linejoin="round"/><path d="M1330.1 3449.2L1345.1 3477.2H1315.1Z" stroke="#FFFF00" stroke-width="3.4" fill="none" stroke-linejoin="round"/><path d="M1518.8 3314.0L1533.8 3342.0H1503.8Z" stroke="#FFFF00" stroke-width="3.4" fill="none" stroke-linejoin="round"/><path d="M1707.4 3186.3L1722.4 3214.3H1692.4Z" stroke="#FFFF00" stroke-width="3.4" fill="none" stroke-linejoin="round"/><path d="M1896.0 3153.7L1911.0 3181.7H1881.0Z" stroke="#FFFF00" stroke-width="3.4" fill="none" stroke-linejoin="round"/><path d="M387.0 4013.6 L575.6 3793.0 L764.2 3721.3 L952.9 3579.0 L1141.5 3469.8 L1330.1 3341.0 L1518.8 3250.3 L1707.4 3153.6 L1896.0 3070.4" fill="none" stroke="#0000CC" stroke-width="5.2" stroke-dasharray="42 26.5 0.01 26.5" stroke-linecap="round" stroke-linejoin="round"/><path d="M1141.5 3444.8V3494.7M1125.5 3444.8H1157.5M1125.5 3494.7H1157.5" stroke="#000" stroke-width="3.4" fill="none"/><path d="M1330.1 3303.0V3379.0M1314.1 3303.0H1346.1M1314.1 3379.0H1346.1" stroke="#000" stroke-width="3.4" fill="none"/><path d="M1707.4 3128.6V3178.5M1691.4 3128.6H1723.4M1691.4 3178.5H1723.4" stroke="#000" stroke-width="3.4" fill="none"/><path d="M952.9 3573.5V3584.4M936.9 3573.5H968.9M936.9 3584.4H968.9" stroke="#000" stroke-width="3.4" fill="none"/><rect x="371.5" y="3998.1" width="31.0" height="31.0" fill="none" stroke="#0000CC" stroke-width="5.2"/><rect x="560.1" y="3777.5" width="31.0" height="31.0" fill="none" stroke="#0000CC" stroke-width="5.2"/><rect x="748.8" y="3705.8" width="31.0" height="31.0" fill="none" stroke="#0000CC" stroke-width="5.2"/><rect x="937.4" y="3563.5" width="31.0" height="31.0" fill="none" stroke="#0000CC" stroke-width="5.2"/><rect x="1126.0" y="3454.3" width="31.0" height="31.0" fill="none" stroke="#0000CC" stroke-width="5.2"/><rect x="1314.6" y="3325.5" width="31.0" height="31.0" fill="none" stroke="#0000CC" stroke-width="5.2"/><rect x="1503.2" y="3234.8" width="31.0" height="31.0" fill="none" stroke="#0000CC" stroke-width="5.2"/><rect x="1691.9" y="3138.1" width="31.0" height="31.0" fill="none" stroke="#0000CC" stroke-width="5.2"/><rect x="1880.5" y="3054.9" width="31.0" height="31.0" fill="none" stroke="#0000CC" stroke-width="5.2"/><path d="M387.0 4013.6 L575.6 3946.8 L764.2 3946.8 L952.9 3946.8 L1141.5 3931.6 L1330.1 3935.4 L1518.8 3931.6 L1707.4 3927.8" fill="none" stroke="#5FA02E" stroke-width="5.2" stroke-dasharray="17.5 25 0.01 25" stroke-linecap="round" stroke-linejoin="round"/><path d="M764.2 3933.2V3960.4M748.2 3933.2H780.2M748.2 3960.4H780.2" stroke="#000" stroke-width="3.4" fill="none"/><path d="M1141.5 3923.4V3939.7M1125.5 3923.4H1157.5M1125.5 3939.7H1157.5" stroke="#000" stroke-width="3.4" fill="none"/><path d="M575.6 3942.4V3951.1M559.6 3942.4H591.6M559.6 3951.1H591.6" stroke="#000" stroke-width="3.4" fill="none"/><path d="M952.9 3943.5V3950.0M936.9 3943.5H968.9M936.9 3950.0H968.9" stroke="#000" stroke-width="3.4" fill="none"/><path d="M1330.1 3931.0V3939.7M1314.1 3931.0H1346.1M1314.1 3939.7H1346.1" stroke="#000" stroke-width="3.4" fill="none"/><path d="M1518.8 3927.2V3935.9M1502.8 3927.2H1534.8M1502.8 3935.9H1534.8" stroke="#000" stroke-width="3.4" fill="none"/><rect x="371.5" y="3998.1" width="31.0" height="31.0" fill="none" stroke="#00B050" stroke-width="5.2"/><rect x="560.1" y="3931.3" width="31.0" height="31.0" fill="none" stroke="#00B050" stroke-width="5.2"/><rect x="748.8" y="3931.3" width="31.0" height="31.0" fill="none" stroke="#00B050" stroke-width="5.2"/><rect x="937.4" y="3931.3" width="31.0" height="31.0" fill="none" stroke="#00B050" stroke-width="5.2"/><rect x="1126.0" y="3916.1" width="31.0" height="31.0" fill="none" stroke="#00B050" stroke-width="5.2"/><rect x="1314.6" y="3919.9" width="31.0" height="31.0" fill="none" stroke="#00B050" stroke-width="5.2"/><rect x="1503.2" y="3916.1" width="31.0" height="31.0" fill="none" stroke="#00B050" stroke-width="5.2"/><rect x="1691.9" y="3912.3" width="31.0" height="31.0" fill="none" stroke="#00B050" stroke-width="5.2"/><text x="302" y="4036.6" text-anchor="end">0</text><text x="302" y="3493.3" text-anchor="end">1,000</text><text x="302" y="2950.0" text-anchor="end">2,000</text><text x="387.0" y="4125" text-anchor="middle">0</text><text x="575.6" y="4125" text-anchor="middle">13</text><text x="764.2" y="4125" text-anchor="middle">20</text><text x="952.9" y="4125" text-anchor="middle">27</text><text x="1141.5" y="4125" text-anchor="middle">34</text><text x="1330.1" y="4125" text-anchor="middle">41</text><text x="1518.8" y="4125" text-anchor="middle">48</text><text x="1707.4" y="4125" text-anchor="middle">54</text><text x="1896.0" y="4125" text-anchor="middle">60</text><text x="785" y="4234.3">Purification time (day)</text><text transform="translate(105,3668.2) rotate(-90)">FI3(Au.nm<tspan font-size="54" dy="-23">2</tspan><tspan dy="23">)</tspan></text><path d="M398.3 3001.5H563.7" stroke="#000000" stroke-width="5.2" stroke-dasharray="17.8 25.2" stroke-linecap="round" fill="none"/><circle cx="479.7" cy="3001.5" r="15" fill="none" stroke="#000000" stroke-width="4.5"/><text x="579" y="3022.0">0.01mg/L</text><path d="M971.3 3001.5H1136.7" stroke="#FF00FF" stroke-width="5.2" stroke-dasharray="11.2 14" stroke-linecap="round" fill="none"/><path d="M1052.7 2983.0V3020.0M1034.2 3001.5H1071.2" stroke="#FF00FF" stroke-width="3.8" fill="none"/><text x="1153" y="3022.0">0.05 mg/L</text><path d="M398.3 3082.3H563.7" stroke="#FF0000" stroke-width="5.2" stroke-dasharray="17.8 25.2" stroke-linecap="round" fill="none"/><path d="M479.7 3064.3V3100.3" stroke="#FF0000" stroke-width="3.8" fill="none"/><path d="M462.7 3065.3L496.7 3099.3M462.7 3099.3L496.7 3065.3" stroke="#FF0000" stroke-width="2.6" fill="none"/><text x="579" y="3102.8">0.1 mg/L</text><path d="M971.3 3082.3H1136.7" stroke="#FFFF00" stroke-width="5.2" stroke-dasharray="11.2 14" stroke-linecap="round" fill="none"/><path d="M1052.7 3068.3L1067.7 3096.3H1037.7Z" stroke="#FFFF00" stroke-width="3.4" fill="none" stroke-linejoin="round"/><text x="1153" y="3102.8">0.5 mg/L</text><path d="M398.3 3163H549.7" stroke="#0000CC" stroke-width="5.2" stroke-dasharray="42 26.5 0.01 26.5" stroke-linecap="round" fill="none"/><rect x="464.2" y="3147.5" width="31.0" height="31.0" fill="none" stroke="#0000CC" stroke-width="5.2"/><text x="579" y="3183.5">1 mg/L</text><path d="M971.3 3163H1136.7" stroke="#5FA02E" stroke-width="5.2" stroke-dasharray="17.5 25 0.01 25" stroke-linecap="round" fill="none"/><rect x="1037.2" y="3147.5" width="31.0" height="31.0" fill="none" stroke="#00B050" stroke-width="5.2"/><text x="1153" y="3183.5">5 mg/L</text></g>
</g></svg></body></html>
